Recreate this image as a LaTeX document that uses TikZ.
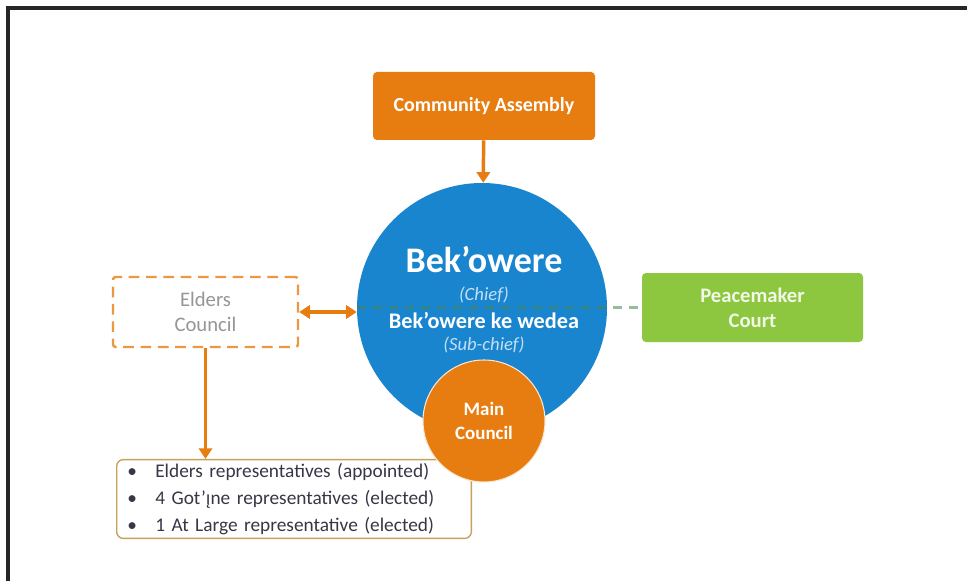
\documentclass[tikz,border=0pt]{standalone}
\usepackage{fontspec}
\setmainfont{Carlito}
\newfontfamily\ogonekfont{Noto Sans}
\usetikzlibrary{arrows.meta}
\definecolor{govorange}{RGB}{231,125,17}
\definecolor{govblue}{RGB}{25,133,207}
\definecolor{govgreen}{RGB}{141,198,63}
\definecolor{chieftext}{RGB}{195,222,245}
\definecolor{eldertext}{RGB}{150,150,150}
\definecolor{listtext}{RGB}{55,55,70}
\definecolor{listframe}{RGB}{200,160,90}
\tikzset{
  orangebox/.style={fill=govorange,rounded corners=3pt,text=white,font=\bfseries\fontsize{15}{17}\selectfont,
    minimum width=166.5pt,minimum height=51pt,align=center},
  greenbox/.style={fill=govgreen,rounded corners=3pt,text=white!88!govgreen,font=\bfseries\fontsize{15.5}{19}\selectfont,
    minimum width=165.75pt,minimum height=51.75pt,align=center},
  elderbox/.style={draw=govorange!80,line width=1.8pt,dash pattern=on 8pt off 5pt,fill=white,rounded corners=2pt,
    text=eldertext,font=\fontsize{15.5}{19}\selectfont,minimum width=138.75pt,minimum height=52.5pt,align=center},
  orangearrow/.style={govorange,line width=2.6pt,-{Triangle[length=8pt,width=10pt]}},
  chieftitle/.style={text=white,font=\bfseries\fontsize{#1}{#1}\selectfont,inner sep=0pt},
  chiefnote/.style={text=chieftext,font=\itshape\fontsize{14}{14}\selectfont,inner sep=0pt}
}
\begin{document}
\begin{tikzpicture}[x=0.75pt,y=-0.75pt]
  \useasboundingbox (0,0) rectangle (967,581);
  \fill[white] (0,0) rectangle (967,581);
  \draw[line width=2.5pt,black!85] (8,581) -- (8,8) -- (967,8);

  \node[orangebox] (assembly) at (484,106) {Community Assembly};
  \node[circle,fill=govblue,minimum size=187.5pt,inner sep=0pt] (bek) at (482,308) {};
  \node[elderbox] (elders) at (205.5,312) {Elders\\Council};
  \node[greenbox] (peace) at (752.5,307.5) {Peacemaker\\Court};

  \node[chieftitle=27] (chief) at (484,260) {Bek’owere};
  \node[chiefnote] (chiefrole) at (484,295) {(Chief)};
  \node[chieftitle=16.7] (subchief) at (484,320) {Bek’owere ke wedea};
  \node[chiefnote] (subrole) at (484,345) {(Sub-chief)};

  \draw[gray!70!green!80!black,line width=1.6pt,dash pattern=on 7pt off 5pt,opacity=0.55] (bek.west |- peace.west) -- (peace.west);

  \node[draw=listframe,line width=1pt,fill=white,rounded corners=5pt,minimum height=58.5pt,
    text width=250pt,inner xsep=8pt,inner ysep=3pt,text=listtext,font=\fontsize{14.5}{20}\selectfont,align=left] (members) at (294,499)
    {\textbullet\hspace{0.95em}Elders representatives (appointed)\\
     \textbullet\hspace{0.95em}4 Got’{\ogonekfont\fontsize{13.5}{20}\selectfont ı̨}ne representatives (elected)\\
     \textbullet\hspace{0.95em}1 At Large representative (elected)};

  \node[circle,fill=govorange,draw=white!80!govorange,line width=0.8pt,minimum size=91.5pt,inner sep=0pt,
    text=white,font=\bfseries\fontsize{14.2}{18}\selectfont,align=center] (main) at (484,421) {Main\\Council};

  \draw[orangearrow] (assembly) -- (bek);
  \draw[orangearrow,{Triangle[length=8pt,width=10pt]}-{Triangle[length=8pt,width=10pt]}] (elders.east) -- (elders.east -| bek.west);
  \draw[orangearrow] (elders.south) -- (elders.south |- members.north);
\end{tikzpicture}
\end{document}
